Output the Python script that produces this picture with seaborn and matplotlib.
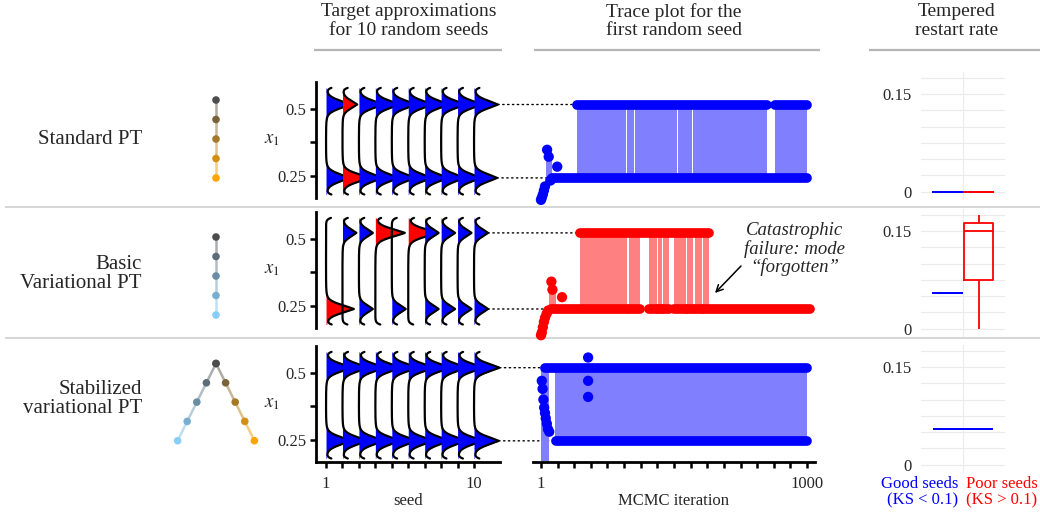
import numpy as np
import pandas as pd
import matplotlib
matplotlib.use("Agg")
import matplotlib.pyplot as plt
from matplotlib.patches import ConnectionPatch
import seaborn as sns

W, H = 1040, 514

# ---------------- data ----------------
seeds = [1, 2, 3, 4, 5, 6, 7, 8, 9, 10]
row_labels = ["Standard PT", "Basic\nVariational PT", "Stabilized\nvariational PT"]

# where the two modes of x1 sit (upper, lower)
std_modes = [0.516, 0.242]
vpt_modes = [0.522, 0.238]
svpt_modes = [0.519, 0.246]

# peak size of each seed's density, in seed-spacing units
std_hi_peak = [1.45, 0.9, 1.45, 1.45, 1.45, 1.45, 1.45, 1.45, 1.45, 1.45]
std_lo_peak = [1.4, 1.65, 1.4, 1.4, 1.4, 1.4, 1.4, 1.4, 1.4, 1.4]
vpt_hi_peak = [0.0, 0.85, 0.85, 1.8, 0.0, 1.75, 0.85, 0.85, 0.85, 0.85]
vpt_lo_peak = [1.7, 0.0, 0.85, 0.0, 0.85, 0.0, 0.85, 0.85, 0.85, 0.85]
svpt_hi_peak = [1.55, 1.55, 1.55, 1.55, 1.55, 1.55, 1.55, 1.55, 1.55, 1.55]
svpt_lo_peak = [1.5, 1.5, 1.5, 1.5, 1.5, 1.5, 1.5, 1.5, 1.5, 1.5]

std_good = [True, False, True, True, True, True, True, True, True, True]
vpt_good = [False, True, True, False, True, False, True, True, True, True]
svpt_good = [True, True, True, True, True, True, True, True, True, True]

# trace of the first seed: isolated points, spans spent in each mode,
# spans where the chain keeps swapping modes
std_pts_iter = [1, 4, 8, 12, 16, 24, 30, 36, 42, 62]
std_pts_x = [0.16, 0.168, 0.18, 0.195, 0.21, 0.347, 0.321, 0.232, 0.238, 0.284]
std_hi_spans = [(136, 850), (878, 1000)]
std_lo_spans = [(42, 1000)]
std_band = [(136, 319), (323, 349), (353, 510), (514, 567), (571, 850), (878, 1000)]
std_burn_band = [(18, 42, 0.235, 0.34)]

vpt_pts_iter = [1, 4, 8, 12, 16, 22, 28, 40, 44, 80]
vpt_pts_x = [0.14, 0.15, 0.17, 0.19, 0.205, 0.22, 0.232, 0.34, 0.31, 0.282]
vpt_hi_spans = [(148, 633)]
vpt_lo_spans = [(40, 324), (332, 373), (407, 437), (441, 456), (460, 482),
                (501, 546), (550, 573), (580, 606), (610, 1010)]
vpt_band = [(148, 324), (332, 373), (407, 437), (441, 456), (460, 482),
            (501, 546), (550, 573), (580, 606), (610, 633)]
vpt_burn_band = [(31, 57, 0.238, 0.32)]

svpt_pts_iter = [4, 7, 10, 13, 16, 19, 23, 27, 32, 178, 178, 178]
svpt_pts_x = [0.47, 0.44, 0.4, 0.37, 0.35, 0.33, 0.31, 0.29, 0.28, 0.557, 0.47, 0.41]
svpt_hi_spans = [(16, 1000)]
svpt_lo_spans = [(57, 1000)]
svpt_band = [(54, 1000)]
svpt_burn_band = [(1, 31, 0.17, 0.519)]

# tempered restart rate per seed
std_restart = [0.0, 0.0, 0.0, 0.0, 0.0, 0.0, 0.0, 0.0, 0.0, 0.0]
vpt_restart = [0.0, 0.0556, 0.0556, 0.151, 0.0556, 0.175, 0.0556, 0.0556, 0.0556, 0.0556]
svpt_restart = [0.055, 0.055, 0.055, 0.055, 0.055, 0.055, 0.055, 0.055, 0.055, 0.055]

BLUE, RED = "#0000FF", "#FF0000"
BLUE_BAND, RED_BAND = "#8080FF", "#FF8080"

sns.set_theme(style="white")
plt.rcParams["font.family"] = ["Liberation Serif", "DejaVu Serif"]
plt.rcParams["mathtext.fontset"] = "stix"

fig = plt.figure(figsize=(W / 100, H / 100), dpi=100)


def px_axes(left, top, width, height):
    return fig.add_axes([left / W, 1 - (top + height) / H, width / W, height / H])


bg = fig.add_axes([0, 0, 1, 1])
bg.set_xlim(0, W)
bg.set_ylim(H, 0)
bg.axis("off")

# headers
bg.text(409, 21, "Target approximations\nfor 10 random seeds", ha="center", va="center",
        fontsize=14, linespacing=1.1)
bg.text(674, 21, "Trace plot for the\nfirst random seed", ha="center", va="center",
        fontsize=14, linespacing=1.1)
bg.text(957, 21, "Tempered\nrestart rate", ha="center", va="center",
        fontsize=14, linespacing=1.1)
for x0, x1 in [(314, 502), (534, 820), (869, 1040)]:
    bg.plot([x0, x1], [50, 50], color="#b5b5b5", lw=1.6, solid_capstyle="butt")
for y in [207, 338]:
    bg.plot([5, 1040], [y, y], color="#d3d3d3", lw=1.3, solid_capstyle="butt")

# row labels
for label, y in zip(row_labels, [140, 274, 399]):
    bg.text(142, y, label, ha="right", va="center", fontsize=15, linespacing=1.05)

# small tree diagrams
gray = np.array([77, 77, 77]) / 255
orange = np.array([255, 165, 0]) / 255
skyblue = np.array([135, 206, 250]) / 255


def draw_chain(x0, y0, dx, dy, end_col):
    ks = np.arange(5)
    cols = [gray + t * (end_col - gray) for t in ks / 4]
    xs = x0 + ks * dx
    ys = y0 + ks * dy
    for k in range(4):
        c = 0.5 * (cols[k] + cols[k + 1])
        bg.plot(xs[k:k + 2], ys[k:k + 2], color=0.5 * c + 0.5, lw=1.8, zorder=1)
    bg.scatter(xs, ys, s=30, c=cols, zorder=2, linewidths=0)


draw_chain(216, 100, 0, 19.5, orange)
draw_chain(216, 237, 0, 19.5, skyblue)
draw_chain(216, 363.5, -9.6, 19.3, skyblue)
draw_chain(216, 363.5, 9.6, 19.3, orange)

Y_MIN, Y_MAX = 0.18, 0.578


def peak_shape(d):
    return 0.5 * np.exp(-0.5 * (d / 0.017) ** 2) + 0.5 * np.exp(-np.abs(d) / 0.019)


def draw_density(ax, modes, hi_peak, lo_peak, good):
    ygrid = np.linspace(Y_MIN, Y_MAX, 800)
    # small curl of the outline at both ends of the range
    curl = 0.3 * np.exp(-(Y_MAX - ygrid) / 0.006) + 0.3 * np.exp(-(ygrid - Y_MIN) / 0.006)
    for i, s in enumerate(seeds):
        prof = hi_peak[i] * peak_shape(ygrid - modes[0]) + lo_peak[i] * peak_shape(ygrid - modes[1])
        col = BLUE if good[i] else RED
        ax.fill_betweenx(ygrid, s, s + prof, color=col, lw=0, zorder=2 * i + 1)
        ax.plot(s + prof + curl, ygrid, color="black", lw=1.6, zorder=2 * i + 2)


def draw_trace(ax, modes, color, band_color, hi_spans, lo_spans, band, burn_band, pts_iter, pts_x):
    for a, b in band:
        ax.fill_between([a, b], modes[1], modes[0], color=band_color, lw=0, zorder=1)
    for a, b, lo, hi in burn_band:
        ax.fill_between([a, b], lo, hi, color=band_color, lw=0, zorder=1)
    for a, b in hi_spans:
        ax.plot([a, b], [modes[0], modes[0]], color=color, lw=7, solid_capstyle="round",
                zorder=2, clip_on=False)
    for a, b in lo_spans:
        ax.plot([a, b], [modes[1], modes[1]], color=color, lw=7, solid_capstyle="round",
                zorder=2, clip_on=False)
    sns.scatterplot(x=pts_iter, y=pts_x, color=color, s=55, edgecolor="none", ax=ax,
                    zorder=3, clip_on=False)


def draw_restart(ax, restart, good):
    df = pd.DataFrame({"rate": restart,
                       "group": ["good" if g else "poor" for g in good],
                       "all": ""})
    ax.set_yticks(np.arange(0, 0.176, 0.025))
    ax.set_yticklabels(["0", "", "", "", "", "", "0.15", ""])
    ax.grid(axis="y", color="#ebebeb", lw=0.8)
    ax.axvline(0, color="#ebebeb", lw=0.8, zorder=0)
    sns.boxplot(data=df, x="all", y="rate", hue="group", hue_order=["good", "poor"],
                palette={"good": BLUE, "poor": RED}, fill=False, width=0.75, gap=0.08,
                linewidth=1.3, showcaps=False, showfliers=False, legend=False, ax=ax)
    ax.set_xlim(-0.5, 0.5)
    ax.set_ylim(-0.012, 0.185)
    ax.set_xlabel("")
    ax.set_ylabel("")
    ax.set_xticks([])
    ax.tick_params(axis="y", length=0, labelsize=12, pad=7)
    sns.despine(ax=ax, left=True, bottom=True)


rows = [
    (std_modes, std_hi_peak, std_lo_peak, std_good, BLUE, BLUE_BAND, std_hi_spans, std_lo_spans,
     std_band, std_burn_band, std_pts_iter, std_pts_x, std_restart),
    (vpt_modes, vpt_hi_peak, vpt_lo_peak, vpt_good, RED, RED_BAND, vpt_hi_spans, vpt_lo_spans,
     vpt_band, vpt_burn_band, vpt_pts_iter, vpt_pts_x, vpt_restart),
    (svpt_modes, svpt_hi_peak, svpt_lo_peak, svpt_good, BLUE, BLUE_BAND, svpt_hi_spans,
     svpt_lo_spans, svpt_band, svpt_burn_band, svpt_pts_iter, svpt_pts_x, svpt_restart),
]
dens_tops = [82, 212, 346]
box_tops = [71.5, 208.5, 344.5]

for r, (modes, hi_pk, lo_pk, good, col, bcol, hi_sp, lo_sp, band, bband, p_it, p_x, restart) in enumerate(rows):
    last = r == 2
    ax_d = px_axes(316, dens_tops[r], 184, 116)
    ax_t = px_axes(533, dens_tops[r], 282, 116)
    ax_b = px_axes(921, box_tops[r], 84, 128)
    for ax in (ax_d, ax_t, ax_b):
        ax.set_facecolor("none")

    draw_density(ax_d, modes, hi_pk, lo_pk, good)
    ax_d.set_xlim(0.39, 11.58)
    ax_d.set_ylim(0.167, 0.6)
    ax_d.set_yticks([0.25, 0.375, 0.5])
    ax_d.set_yticklabels(["0.25", "", "0.5"])
    ax_d.set_ylabel(r"$x_1$", rotation=0, fontsize=13.5, ha="center", va="center")
    ax_d.yaxis.set_label_coords(-0.24, 0.5)
    sns.despine(ax=ax_d, bottom=not last)
    ax_d.spines["left"].set_linewidth(2)
    ax_d.spines["left"].set_color("black")
    ax_d.tick_params(axis="y", left=True, length=4, width=1.8, labelsize=12, pad=3, color="black")
    if last:
        ax_d.spines["bottom"].set_linewidth(2)
        ax_d.spines["bottom"].set_color("black")
        ax_d.set_xticks(seeds)
        ax_d.set_xticklabels(["1", "", "", "", "", "", "", "", "", "10"])
        ax_d.tick_params(axis="x", bottom=True, length=4, width=1.8, labelsize=12, pad=6, color="black")
        ax_d.set_xlabel("seed", fontsize=12, labelpad=1)
    else:
        ax_d.set_xticks([])

    draw_trace(ax_t, modes, col, bcol, hi_sp, lo_sp, band, bband, p_it, p_x)
    ax_t.set_xlim(-29, 1030)
    ax_t.set_ylim(0.167, 0.6)
    ax_t.set_yticks([])
    sns.despine(ax=ax_t, left=True, bottom=not last)
    if last:
        ax_t.spines["bottom"].set_linewidth(2)
        ax_t.spines["bottom"].set_color("black")
        ticks = np.linspace(1, 1000, 17)
        ax_t.set_xticks(ticks)
        ax_t.set_xticklabels(["1"] + [""] * 15 + ["1000"])
        ax_t.tick_params(axis="x", bottom=True, length=4, width=1.8, labelsize=12, pad=6, color="black")
        ax_t.set_xlabel("MCMC iteration", fontsize=12, labelpad=1)
    else:
        ax_t.set_xticks([])

    # dotted guides from the density peaks to the trace
    first_hi = hi_sp[0][0]
    first_lo = lo_sp[0][0]
    for m, pk, start in [(modes[0], hi_pk[-1], first_hi), (modes[1], lo_pk[-1], first_lo)]:
        con = ConnectionPatch(xyA=(seeds[-1] + pk, m), coordsA=ax_d.transData,
                              xyB=(start, m), coordsB=ax_t.transData,
                              color="black", lw=1.0, linestyle=(0, (1, 2.5)), zorder=0.5)
        ax_t.add_artist(con)
        con.set_clip_on(False)

    draw_restart(ax_b, restart, good)

bg.text(795, 249, "Catastrophic\nfailure: mode\n\u201cforgotten\u201d",
        ha="center", va="center", fontsize=13.5, style="italic", linespacing=1.05)
bg.annotate("", xy=(715, 293), xytext=(741, 266),
            arrowprops=dict(arrowstyle="->", lw=1.1, color="black", shrinkA=0, shrinkB=0))

bg.text(958, 492, "Good seeds\n(KS < 0.1)", ha="right", va="center", fontsize=12,
        color=BLUE, linespacing=1.05, multialignment="right")
bg.text(966, 492, "Poor seeds\n(KS > 0.1)", ha="left", va="center", fontsize=12,
        color=RED, linespacing=1.05, multialignment="left")

fig.savefig("out.png", dpi=100)
